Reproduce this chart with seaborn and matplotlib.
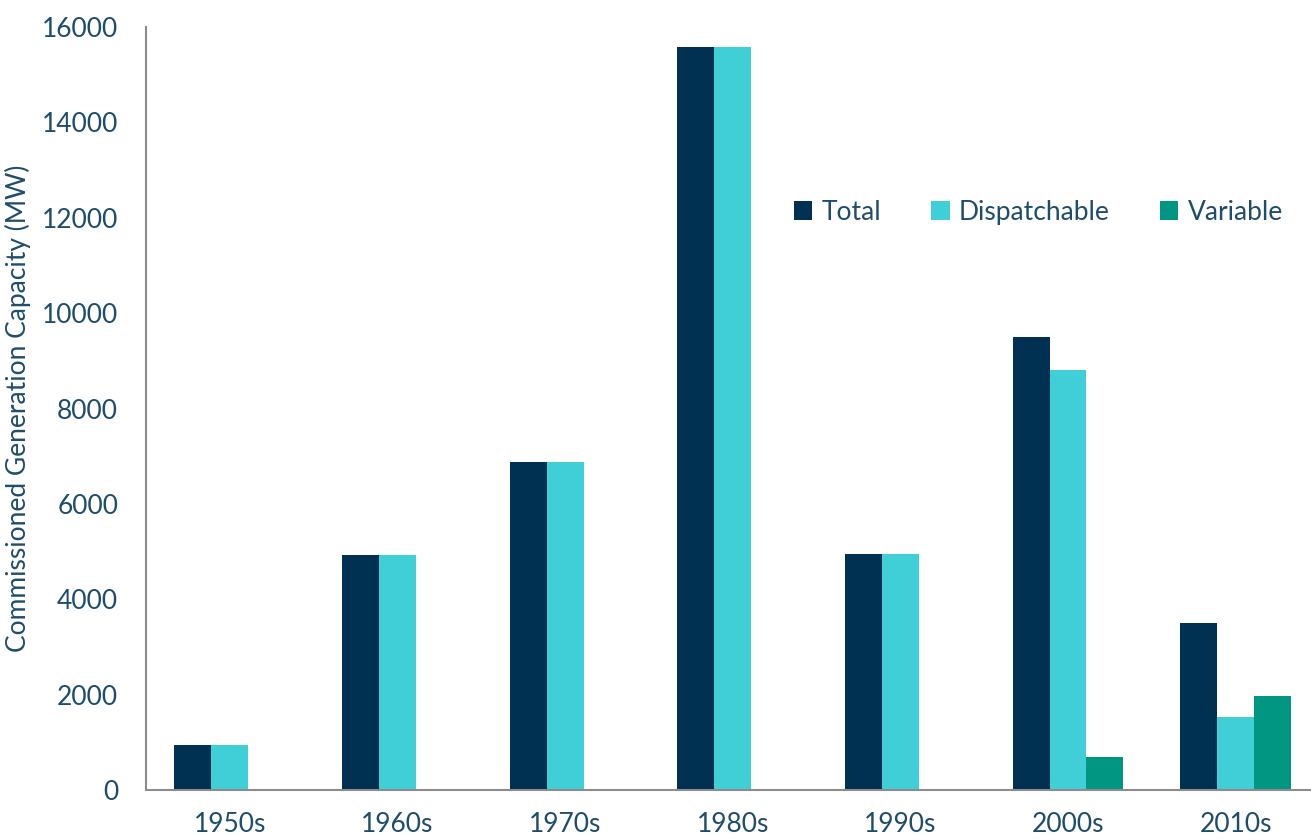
import matplotlib
matplotlib.use("Agg")
import matplotlib.pyplot as plt
import seaborn as sns
import pandas as pd
from matplotlib.patches import Patch

decades = ["1950s", "1960s", "1970s", "1980s", "1990s", "2000s", "2010s"]
total = [950, 4930, 6880, 15580, 4940, 9500, 3510]
dispatchable = [950, 4930, 6880, 15580, 4940, 8800, 1540]
variable = [0, 0, 0, 0, 0, 690, 1980]
series_names = ["Total", "Dispatchable", "Variable"]
y_ticks = [0, 2000, 4000, 6000, 8000, 10000, 12000, 14000, 16000]

colors = ["#003152", "#40CFD6", "#009682"]
text_color = "#1E4D6B"

df = pd.DataFrame({
    "Decade": decades * 3,
    "Series": [s for s in series_names for _ in decades],
    "Capacity": total + dispatchable + variable,
})

sns.set_theme(style="white")
plt.rcParams["font.family"] = ["Lato", "DejaVu Sans"]

fig = plt.figure(figsize=(13.11, 8.39), dpi=100)
ax = fig.add_axes([146 / 1311, 49 / 839, 1 - 146 / 1311, (790 - 27) / 839])

sns.barplot(data=df, x="Decade", y="Capacity", hue="Series",
            palette=colors, width=0.66, saturation=1, ax=ax,
            legend=False, errorbar=None, linewidth=0)

ax.set_xlim(-0.5, 6.45)
ax.set_ylim(0, 16000)
ax.set_yticks(y_ticks)
ax.set_yticklabels([str(v) for v in y_ticks], fontsize=19, color=text_color)
ax.set_xticks(range(len(decades)))
ax.set_xticklabels(decades, fontsize=19, color=text_color)
ax.tick_params(axis="both", length=0)
ax.tick_params(axis="x", pad=16)
ax.tick_params(axis="y", pad=20)
ax.set_xlabel("")
ax.set_ylabel("Commissioned Generation Capacity (MW)", fontsize=19,
              color=text_color, labelpad=8)

for side in ["top", "right"]:
    ax.spines[side].set_visible(False)
for side in ["left", "bottom"]:
    ax.spines[side].set_color("#8C8C8C")
    ax.spines[side].set_linewidth(1.5)

handles = [Patch(facecolor=c, edgecolor="none") for c in colors]
leg = ax.legend(handles, series_names, loc="center left",
                bbox_to_anchor=(0.556, 0.757), ncol=3, frameon=False,
                fontsize=19, handlelength=0.7, handleheight=0.7,
                handletextpad=0.35, columnspacing=1.9, borderaxespad=0,
                borderpad=0)
for t in leg.get_texts():
    t.set_color(text_color)

fig.savefig("out.png", dpi=100)
